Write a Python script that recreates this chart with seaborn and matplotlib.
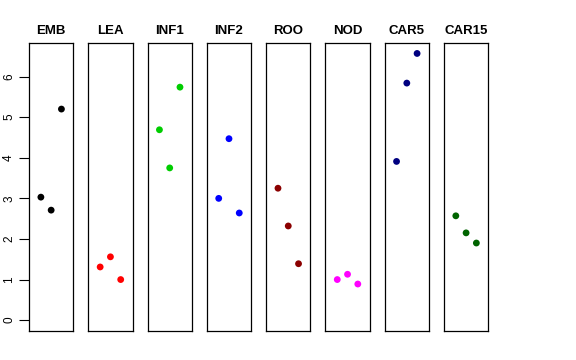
import numpy as np
import pandas as pd
import matplotlib
matplotlib.use('Agg')
import matplotlib.pyplot as plt
import seaborn as sns

groups = ['EMB', 'LEA', 'INF1', 'INF2', 'ROO', 'NOD', 'CAR5', 'CAR15']
colors = ['black', 'red', '#00CD00', 'blue', '#8B0000', 'magenta', '#000080', '#006400']
emb = [3.03, 2.71, 5.20]
lea = [1.31, 1.56, 1.00]
inf1 = [4.69, 3.75, 5.74]
inf2 = [3.00, 4.47, 2.64]
roo = [3.25, 2.32, 1.39]
nod = [1.00, 1.13, 0.89]
car5 = [3.91, 5.84, 6.57]
car15 = [2.57, 2.15, 1.90]
reps = [1, 2, 3]

values = [emb, lea, inf1, inf2, roo, nod, car5, car15]
df = pd.DataFrame({
    'group': np.repeat(groups, len(reps)),
    'rep': reps * len(groups),
    'value': np.concatenate(values),
})

sns.set_theme(style='white')
plt.rcParams['font.family'] = ['Liberation Sans', 'DejaVu Sans']
plt.rcParams['text.color'] = 'black'
plt.rcParams['ytick.color'] = 'black'

fig, axes = plt.subplots(1, len(groups), figsize=(5.76, 3.6), dpi=100, sharey=True)
fig.subplots_adjust(left=0.0503, right=0.8477, bottom=0.0814, top=0.8797, wspace=0.336)

for ax, g, col in zip(axes, groups, colors):
    sub = df[df['group'] == g]
    sns.scatterplot(data=sub, x='rep', y='value', color=col, s=24, edgecolor='none', ax=ax)
    ax.set_xlim(-0.16, 4.16)
    ax.set_ylim(-0.26, 6.82)
    ax.set_xticks([])
    ax.set_xlabel('')
    ax.set_ylabel('')
    ax.set_title(g, fontsize=9.5, fontweight='bold', color='black', pad=7)
    for sp in ax.spines.values():
        sp.set_visible(True)
        sp.set_color('black')
        sp.set_linewidth(0.9)
    ax.tick_params(left=False, labelleft=False)

ax0 = axes[0]
ax0.set_yticks(range(0, 7))
ax0.tick_params(axis='y', left=True, labelleft=True, length=7, width=0.8, color='black',
                labelcolor='black', labelsize=8.5, pad=3, labelrotation=90)
for lab in ax0.get_yticklabels():
    lab.set_va('center')

fig.savefig('out.png', dpi=100)
